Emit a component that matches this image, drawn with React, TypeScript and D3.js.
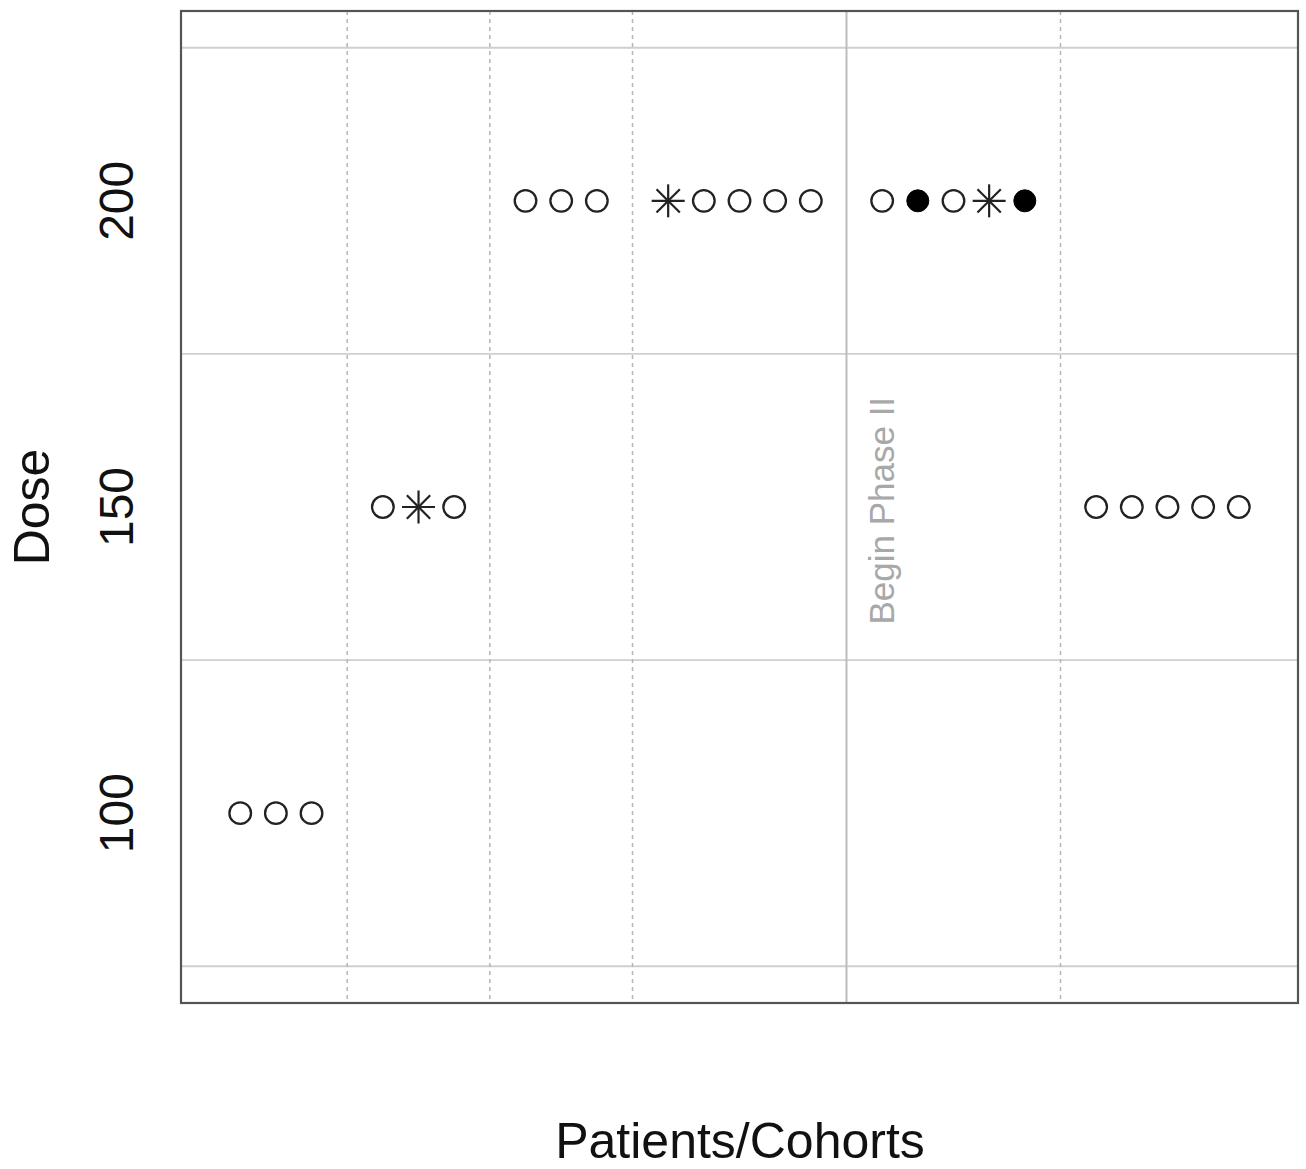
import React from "react";
import * as d3 from "d3";

const patients = [1, 2, 3, 5, 6, 7, 9, 10, 11, 13, 14, 15, 16, 17, 19, 20, 21, 22, 23, 25, 26, 27, 28, 29];
const doses = [100, 100, 100, 150, 150, 150, 200, 200, 200, 200, 200, 200, 200, 200, 200, 200, 200, 200, 200, 150, 150, 150, 150, 150];
// o = open circle, a = asterisk, f = filled circle
const symbols = ["o", "o", "o", "o", "a", "o", "o", "o", "o", "a", "o", "o", "o", "o", "o", "f", "o", "a", "f", "o", "o", "o", "o", "o"];
const cohortBreaks = [4, 8, 12, 24];
const phaseBreak = 18;
const hGrid = [75, 125, 175, 225];
const yTicks = [100, 150, 200];

const W = 1306;
const H = 1169;
const L = 181, R = 1298, T = 11, B = 1003;

export default function App() {
  const x = d3.scaleLinear().domain([-0.66, 30.66]).range([L, R]);
  const y = d3.scaleLinear().domain([69, 231]).range([B, T]);
  const ink = "#222";
  const font = "'Liberation Sans', Arial, Helvetica, sans-serif";

  const marks = patients.map((p, i) => {
    const cx = x(p);
    const cy = y(doses[i]);
    const s = symbols[i];
    if (s === "o") {
      return <circle key={i} cx={cx} cy={cy} r={10.8} fill="none" stroke={ink} strokeWidth={2.3} />;
    }
    if (s === "f") {
      return <circle key={i} cx={cx} cy={cy} r={11} fill="#000" stroke="#000" strokeWidth={1} />;
    }
    const a = 16.5;
    const b = a / Math.SQRT2;
    return (
      <g key={i} stroke={ink} strokeWidth={2.2}>
        <line x1={cx - a} y1={cy} x2={cx + a} y2={cy} />
        <line x1={cx} y1={cy - a} x2={cx} y2={cy + a} />
        <line x1={cx - b} y1={cy - b} x2={cx + b} y2={cy + b} />
        <line x1={cx - b} y1={cy + b} x2={cx + b} y2={cy - b} />
      </g>
    );
  });

  return (
    <svg width={W} height={H} style={{ position: "absolute", left: 0, top: 0, background: "#fff" }} fontFamily={font}>
      <rect x={0} y={0} width={W} height={H} fill="#fff" />
      {hGrid.map((v) => (
        <line key={v} x1={L} x2={R} y1={y(v)} y2={y(v)} stroke="#cfcfcf" strokeWidth={1.8} />
      ))}
      {cohortBreaks.map((v) => (
        <line key={v} x1={x(v)} x2={x(v)} y1={T} y2={B} stroke="#b5b5b5" strokeWidth={1.5} strokeDasharray="4,4" />
      ))}
      <line x1={x(phaseBreak)} x2={x(phaseBreak)} y1={T} y2={B} stroke="#bdbdbd" strokeWidth={2} />
      <text
        transform={`translate(${x(phaseBreak) + 48},${y(130.8)}) rotate(-90)`}
        fontSize={35}
        fill="#a8a8a8"
        textAnchor="start"
      >
        Begin Phase II
      </text>
      {marks}
      <rect x={L} y={T} width={R - L} height={B - T} fill="none" stroke="#555" strokeWidth={2.2} />
      {yTicks.map((v) => (
        <text key={v} transform={`translate(133,${y(v)}) rotate(-90)`} fontSize={48} textAnchor="middle" fill="#111">
          {v}
        </text>
      ))}
      <text transform={`translate(49,${y(150)}) rotate(-90)`} fontSize={50} textAnchor="middle" fill="#111">
        Dose
      </text>
      <text x={740} y={1158} fontSize={50} textAnchor="middle" fill="#111">
        Patients/Cohorts
      </text>
    </svg>
  );
}
